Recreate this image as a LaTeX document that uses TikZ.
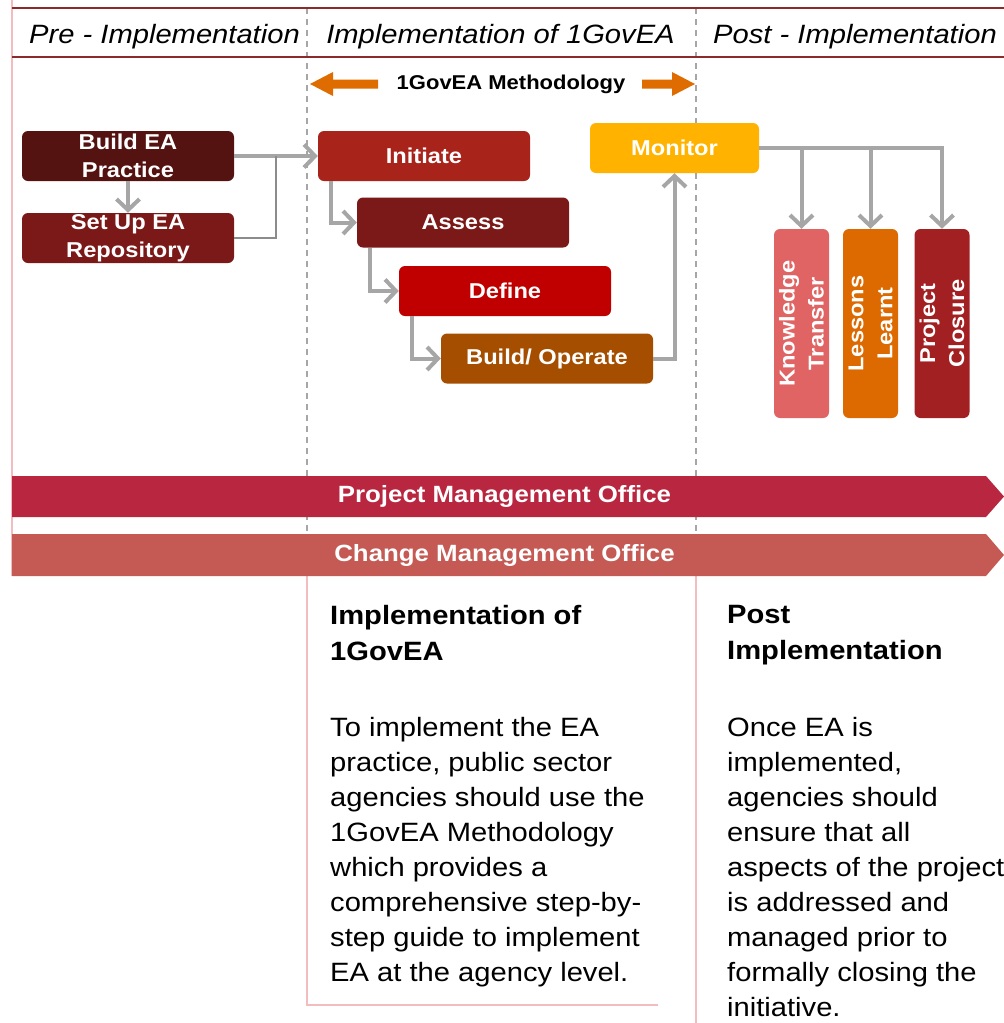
\documentclass[tikz,border=0pt]{standalone}
\usepackage{fontspec}
\setmainfont{Liberation Sans}[FakeStretch=1.1]
\usetikzlibrary{arrows.meta}

\definecolor{headred}{HTML}{8C2A2A}
\definecolor{sidepink}{HTML}{F2BCC0}
\definecolor{dashgrey}{HTML}{A6A6A6}
\definecolor{flowgrey}{HTML}{A6A6A6}
\definecolor{joingrey}{HTML}{8C8C8C}
\definecolor{methodorange}{HTML}{DE6C00}
\definecolor{buildcol}{HTML}{541211}
\definecolor{setupcol}{HTML}{7B1818}
\definecolor{initcol}{HTML}{A8231A}
\definecolor{assesscol}{HTML}{7B1818}
\definecolor{definecol}{HTML}{C00000}
\definecolor{buildopcol}{HTML}{A64E00}
\definecolor{monitorcol}{HTML}{FFB300}
\definecolor{knowcol}{HTML}{E06464}
\definecolor{lessoncol}{HTML}{DC6A00}
\definecolor{closurecol}{HTML}{A21F22}
\definecolor{pmocol}{HTML}{B92640}
\definecolor{cmocol}{HTML}{C45A53}

\tikzset{
  phasebox/.style={fill=#1, rounded corners=6pt, minimum width=212pt, minimum height=50pt,
    inner sep=0pt, text=white, align=center, font=\bfseries\fontsize{21.5}{28}\selectfont},
  postbox/.style={fill=#1, rounded corners=6pt, rotate=90, minimum width=189pt, minimum height=55pt,
    inner sep=0pt, text=white, align=center, font=\bfseries\fontsize{21.5}{29}\selectfont},
  flow/.style={draw=flowgrey, line width=4pt, -{Straight Barb[length=11pt,width=23pt]}},
  joinline/.style={draw=joingrey, line width=1.5pt},
  phaseline/.style={draw=dashgrey, line width=1.5pt, dash pattern=on 6pt off 5pt},
  pinkline/.style={draw=sidepink, line width=2pt},
  headtext/.style={font=\itshape\fontsize{26.5}{30}\selectfont, anchor=base},
  bandtext/.style={text=white, font=\bfseries\fontsize{23.5}{28}\selectfont},
  blockhead/.style={anchor=north west, inner sep=0pt, align=left, font=\bfseries\fontsize{26.5}{36}\selectfont},
  blocktext/.style={anchor=north west, inner sep=0pt, align=left, font=\fontsize{26.5}{35}\selectfont}
}

\begin{document}
\begin{tikzpicture}[x=1pt,y=-1pt]
    \useasboundingbox (0,0) rectangle (1004,1023);

    % Phase separators and frame lines
    \draw[pinkline] (12,0) -- (12,576);
    \draw[phaseline] (307,8) -- (307,576);
    \draw[phaseline] (696,8) -- (696,576);
    \draw[pinkline] (307,576) -- (307,1005) -- (658,1005);
    \draw[pinkline] (696,576) -- (696,1023);
    \draw[headred, line width=2pt] (12,8) -- (1004,8);
    \draw[headred, line width=2pt] (12,57) -- (1004,57);

    % Phase titles
    \node[headtext] (pretitle) at (164.5,43) {Pre - Implementation};
    \node[headtext] (impltitle) at (500.5,43) {Implementation of 1GovEA};
    \node[headtext] (posttitle) at (855,43) {Post - Implementation};

    % Methodology span
    \node[font=\bfseries\fontsize{20}{24}\selectfont] (method) at (511,84) {1GovEA Methodology};
    \fill[methodorange] (378,79.5) -- (333,79.5) -- (333,72) -- (310,84) -- (333,96) -- (333,88.5) -- (378,88.5) -- cycle;
    \fill[methodorange] (642,79.5) -- (672,79.5) -- (672,72) -- (695,84) -- (672,96) -- (672,88.5) -- (642,88.5) -- cycle;

    % Pre-implementation steps
    \node[phasebox=buildcol] (build) at (128,156) {Build EA\\Practice};
    \node[phasebox=setupcol] (setup) at (128,238) {Set Up EA\\Repository};

    % 1GovEA methodology steps
    \node[phasebox=initcol] (initiate) at (424,156) {Initiate};
    \node[phasebox=assesscol] (assess) at (463,222.5) {Assess};
    \node[phasebox=definecol] (define) at (505,291) {Define};
    \node[phasebox=buildopcol] (buildop) at (547,358.5) {Build/ Operate};
    \node[phasebox=monitorcol, minimum width=169pt] (monitor) at (674.5,148) {Monitor};

    % Post-implementation steps (rotated, so .east is the top)
    \node[postbox=knowcol] (knowledge) at (801.5,323.5) {Knowledge\\Transfer};
    \node[postbox=lessoncol] (lessons) at (870.5,323.5) {Lessons\\Learnt};
    \node[postbox=closurecol] (closure) at (942,323.5) {Project\\Closure};

    % Connectors
    \coordinate (join) at (276,156);
    \draw[flow] (build.south) -- (setup.north);
    \draw[flow] (build.east) -- (initiate.west);
    \draw[joinline] (setup.east) -| (join);
    \draw[flow] ([xshift=13pt]initiate.south west) |- (assess.west);
    \draw[flow] ([xshift=13pt]assess.south west) |- (define.west);
    \draw[flow] ([xshift=13pt]define.south west) |- (buildop.west);
    \draw[flow] (buildop.east) -| (monitor.south);
    \draw[flow] (monitor.east) -| (closure.east);
    \draw[flow] (monitor.east) -| (lessons.east);
    \draw[flow] (monitor.east) -| (knowledge.east);

    % Offices
    \fill[pmocol] (12,476) -- (986,476) -- (1004,496.5) -- (986,517) -- (12,517) -- cycle;
    \node[bandtext] (pmo) at (504.5,496.5) {Project Management Office};
    \fill[cmocol] (12,534) -- (986,534) -- (1004,555) -- (986,576) -- (12,576) -- cycle;
    \node[bandtext] (cmo) at (504.5,555) {Change Management Office};

    % Descriptions
    \node[blockhead] (implhead) at (330,605) {Implementation of\\1GovEA};
    \node[blocktext] (impldesc) at (330,717) {To implement the EA\\practice, public sector\\agencies should use the\\1GovEA Methodology\\which provides a\\comprehensive step-by-\\step guide to implement\\EA at the agency level.};
    \node[blockhead] (posthead) at (727,605) {Post\\Implementation};
    \node[blocktext] (postdesc) at (727,717) {Once EA is\\implemented,\\agencies should\\ensure that all\\aspects of the project\\is addressed and\\managed prior to\\formally closing the\\initiative.};

\end{tikzpicture}
\end{document}
